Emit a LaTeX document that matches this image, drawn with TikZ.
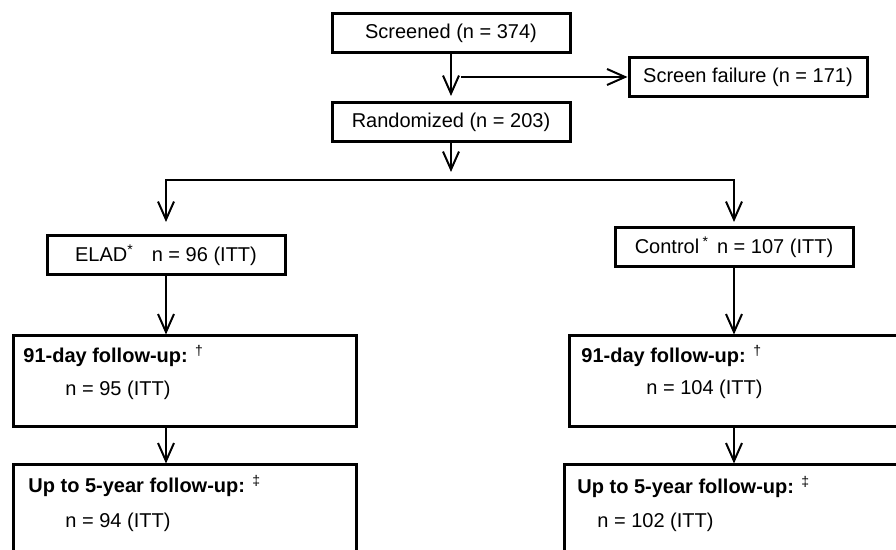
\documentclass[tikz,border=0pt]{standalone}
\usepackage{fontspec}
\setmainfont{Liberation Sans}
\usetikzlibrary{arrows.meta}

\tikzset{
    box/.style={draw, line width=1.5pt, minimum width=119pt, minimum height=19.5pt, inner sep=0pt},
    bigbox/.style={draw, line width=1.5pt, inner sep=0pt},
    arr/.style={line width=1pt, -{Straight Barb[length=9pt,width=8pt]}},
    txt/.style={anchor=west, inner sep=0pt}
}

\begin{document}
\begin{tikzpicture}[x=0.5pt, y=-0.5pt, font=\fontsize{10}{12}\selectfont]
    % frame (px units, y runs downwards)
    \path[use as bounding box, clip] (0,0) rectangle (896,550);

    % screening
    \node[box] (scr) at (451, 33.5) {Screened (n = 374)};
    \node[box] (fail) at (748, 77) {Screen failure (n = 171)};
    \node[box] (rand) at (451, 122) {Randomized (n = 203)};

    % the two arms
    \node[box] (elad) at (166, 255) {ELAD\textsuperscript{*}\hspace{0.9em}n = 96 (ITT)};
    \node[box] (ctrl) at (734, 247) {Control\,\textsuperscript{*}\hspace{0.4em}n = 107 (ITT)};

    % follow-up boxes
    \node[bigbox, minimum width=171.5pt, minimum height=45.5pt] (fu1) at (184.5, 381.5) {};
    \node[bigbox, minimum width=180.5pt, minimum height=45.5pt] (fu2) at (749.5, 381.5) {};
    \node[bigbox, minimum width=171.5pt, minimum height=57.5pt] (ly1) at (184.5, 522.5) {};
    \node[bigbox, minimum width=183pt, minimum height=57.5pt] (ly2) at (747, 522.5) {};

    \node[txt] (fu1a) at (23, 356) {\textbf{91-day follow-up:} \textsuperscript{\textdagger}};
    \node[txt] (fu1b) at (65, 390) {n = 95 (ITT)};
    \node[txt] (fu2a) at (581, 356) {\textbf{91-day follow-up:} \textsuperscript{\textdagger}};
    \node[txt] (fu2b) at (646, 389) {n = 104 (ITT)};
    \node[txt] (ly1a) at (28, 486) {\textbf{Up to 5-year follow-up:} \textsuperscript{\textdaggerdbl}};
    \node[txt] (ly1b) at (65, 522) {n = 94 (ITT)};
    \node[txt] (ly2a) at (577, 487) {\textbf{Up to 5-year follow-up:} \textsuperscript{\textdaggerdbl}};
    \node[txt] (ly2b) at (597, 522) {n = 102 (ITT)};

    % connectors
    \coordinate (br) at (451, 77);
    \coordinate (split) at (451, 180);
    \draw[arr, shorten >=2.5pt] (scr) -- (rand);
    \draw[arr, shorten <=5pt] (br) -- (fail);
    \draw[arr, shorten >=4pt] (rand) -- (split);
    \draw[arr, shorten >=6pt] (split) -| (elad);
    \draw[arr, shorten >=2pt] (split) -| (ctrl);
    \draw[arr] (elad) -- (elad |- fu1.north);
    \draw[arr] (ctrl) -- (ctrl |- fu2.north);
    \draw[arr] (fu1.south -| elad) -- (ly1.north -| elad);
    \draw[arr] (fu2.south -| ctrl) -- (ly2.north -| ctrl);
\end{tikzpicture}
\end{document}
